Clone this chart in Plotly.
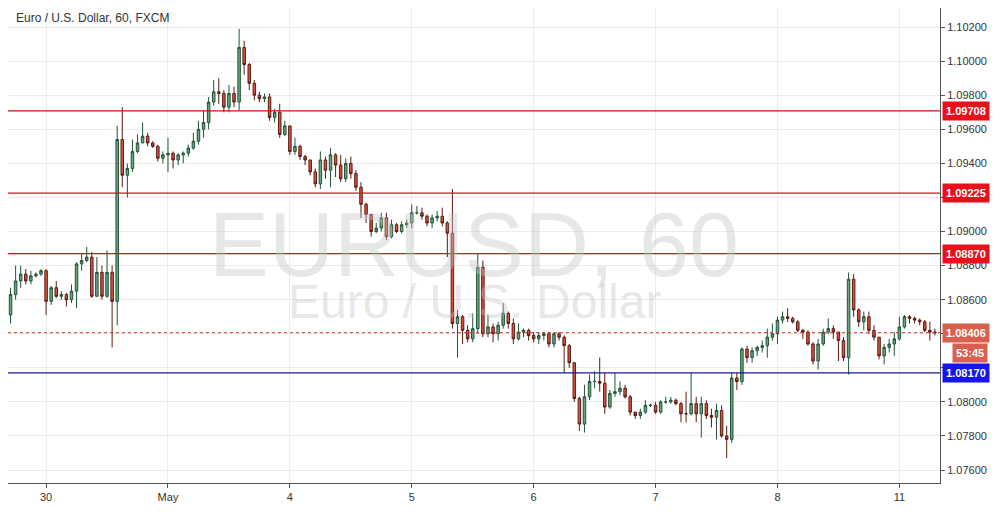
import plotly.graph_objects as go

# hourly EUR/USD candles, Apr 29 - May 11
first_open = 1.0849
closes = [
    1.0851, 1.0863, 1.0871, 1.0875, 1.0871, 1.0874, 1.0875, 1.0877, 1.0859, 1.0867,
    1.0862, 1.0863, 1.0860, 1.0865, 1.0881, 1.0883, 1.0885, 1.0862, 1.0876, 1.0862,
    1.0876, 1.0859, 1.0954, 1.0933, 1.0937, 1.0947, 1.0952, 1.0956, 1.0952, 1.0950,
    1.0943, 1.0945, 1.0946, 1.0942, 1.0945, 1.0946, 1.0949, 1.0953, 1.0960, 1.0964,
    1.0976, 1.0982, 1.0981, 1.0973, 1.0981, 1.0976, 1.1008, 1.0998, 1.0987, 1.0980,
    1.0978, 1.0979, 1.0967, 1.0970, 1.0957, 1.0962, 1.0947, 1.0950, 1.0944, 1.0942,
    1.0935, 1.0928, 1.0942, 1.0936, 1.0945, 1.0939, 1.0931, 1.0940, 1.0934, 1.0926,
    1.0916, 1.0910, 1.0900, 1.0902, 1.0908, 1.0897, 1.0904, 1.0900, 1.0904, 1.0905,
    1.0911, 1.0911, 1.0909, 1.0905, 1.0908, 1.0909, 1.0905, 1.0899, 1.0846, 1.0850,
    1.0842, 1.0837, 1.0843, 1.0879, 1.0840, 1.0844, 1.0840, 1.0845, 1.0852, 1.0846,
    1.0837, 1.0841, 1.0842, 1.0839, 1.0837, 1.0839, 1.0840, 1.0834, 1.0840, 1.0838,
    1.0833, 1.0823, 1.0802, 1.0787, 1.0803, 1.0812, 1.0812, 1.0811, 1.0797, 1.0805,
    1.0806, 1.0808, 1.0803, 1.0794, 1.0792, 1.0794, 1.0798, 1.0798, 1.0794, 1.0800,
    1.0800, 1.0801, 1.0799, 1.0793, 1.0793, 1.0799, 1.0793, 1.0799, 1.0792, 1.0791,
    1.0795, 1.0780, 1.0778, 1.0814, 1.0812, 1.0831, 1.0826, 1.0830, 1.0832, 1.0833,
    1.0838, 1.0840, 1.0848, 1.0850, 1.0849, 1.0847, 1.0842, 1.0841, 1.0834, 1.0824,
    1.0834, 1.0841, 1.0843, 1.0841, 1.0836, 1.0826, 1.0872, 1.0854, 1.0847, 1.0850,
    1.0842, 1.0838, 1.0827, 1.0832, 1.0834, 1.0837, 1.0844, 1.0850, 1.0849, 1.0848,
    1.0847, 1.0842, 1.0841, 1.08406,
]
highs = [
    1.0853, 1.0867, 1.0880, 1.0880, 1.0878, 1.0877, 1.0876, 1.0878, 1.0878, 1.0868,
    1.0871, 1.0865, 1.0864, 1.0869, 1.0882, 1.0887, 1.0891, 1.0888, 1.0885, 1.0880,
    1.0889, 1.0880, 1.0962, 1.0973, 1.0940, 1.0954, 1.0957, 1.0964, 1.0958, 1.0953,
    1.0951, 1.0947, 1.0955, 1.0947, 1.0946, 1.0947, 1.0951, 1.0958, 1.0965, 1.0971,
    1.0979, 1.0989, 1.0990, 1.0983, 1.0986, 1.0985, 1.1019, 1.1012, 1.0999, 1.0989,
    1.0982, 1.0981, 1.0981, 1.0972, 1.0975, 1.0965, 1.0962, 1.0955, 1.0951, 1.0945,
    1.0942, 1.0937, 1.0947, 1.0944, 1.0949, 1.0946, 1.0945, 1.0943, 1.0944, 1.0936,
    1.0929, 1.0917, 1.0910, 1.0905, 1.0911, 1.0911, 1.0907, 1.0905, 1.0906, 1.0907,
    1.0916, 1.0915, 1.0914, 1.0910, 1.0910, 1.0912, 1.0914, 1.0906, 1.0925, 1.0854,
    1.0851, 1.0845, 1.0852, 1.0887, 1.0883, 1.0851, 1.0846, 1.0847, 1.0858, 1.0853,
    1.0849, 1.0846, 1.0843, 1.0843, 1.0841, 1.0841, 1.0841, 1.0841, 1.0841, 1.0841,
    1.0839, 1.0834, 1.0823, 1.0803, 1.0810, 1.0816, 1.0818, 1.0826, 1.0817, 1.0807,
    1.0817, 1.0812, 1.0810, 1.0804, 1.0794, 1.0796, 1.0801, 1.0799, 1.0800, 1.0801,
    1.0803, 1.0803, 1.0802, 1.0800, 1.0806, 1.0817, 1.0803, 1.0803, 1.0801, 1.0796,
    1.0799, 1.0798, 1.0786, 1.0817, 1.0817, 1.0832, 1.0833, 1.0832, 1.0833, 1.0836,
    1.0843, 1.0846, 1.0850, 1.0853, 1.0855, 1.0850, 1.0848, 1.0843, 1.0842, 1.0835,
    1.0837, 1.0843, 1.0849, 1.0845, 1.0841, 1.0838, 1.0876, 1.0875, 1.0855, 1.0853,
    1.0853, 1.0845, 1.0838, 1.0834, 1.0837, 1.0841, 1.0850, 1.0851, 1.0851, 1.0850,
    1.0849, 1.0848, 1.0847, 1.0843,
]
lows = [
    1.0846, 1.0846, 1.0860, 1.0867, 1.0869, 1.0869, 1.0873, 1.0874, 1.0851, 1.0857,
    1.0861, 1.0860, 1.0856, 1.0858, 1.0855, 1.0877, 1.0882, 1.0861, 1.0862, 1.0860,
    1.0861, 1.0832, 1.0845, 1.0926, 1.0920, 1.0935, 1.0946, 1.0952, 1.0950, 1.0949,
    1.0941, 1.0940, 1.0935, 1.0937, 1.0939, 1.0940, 1.0944, 1.0948, 1.0951, 1.0955,
    1.0960, 1.0974, 1.0975, 1.0970, 1.0970, 1.0973, 1.0971, 1.0992, 1.0983, 1.0977,
    1.0976, 1.0976, 1.0965, 1.0964, 1.0955, 1.0956, 1.0945, 1.0945, 1.0942, 1.0939,
    1.0933, 1.0926, 1.0925, 1.0931, 1.0926, 1.0932, 1.0929, 1.0929, 1.0931, 1.0924,
    1.0908, 1.0905, 1.0897, 1.0899, 1.0900, 1.0895, 1.0896, 1.0899, 1.0899, 1.0902,
    1.0902, 1.0910, 1.0907, 1.0903, 1.0902, 1.0906, 1.0903, 1.0885, 1.0843, 1.0826,
    1.0834, 1.0835, 1.0835, 1.0840, 1.0838, 1.0838, 1.0835, 1.0836, 1.0843, 1.0843,
    1.0834, 1.0836, 1.0838, 1.0836, 1.0835, 1.0834, 1.0836, 1.0832, 1.0832, 1.0836,
    1.0817, 1.0820, 1.0800, 1.0783, 1.0782, 1.0801, 1.0808, 1.0806, 1.0793, 1.0796,
    1.0803, 1.0804, 1.0802, 1.0792, 1.0790, 1.0790, 1.0793, 1.0797, 1.0793, 1.0793,
    1.0799, 1.0799, 1.0798, 1.0788, 1.0788, 1.0792, 1.0788, 1.0779, 1.0790, 1.0785,
    1.0778, 1.0779, 1.0767, 1.0776, 1.0807, 1.0810, 1.0823, 1.0823, 1.0827, 1.0829,
    1.0826, 1.0836, 1.0834, 1.0846, 1.0847, 1.0846, 1.0841, 1.0837, 1.0833, 1.0822,
    1.0819, 1.0833, 1.0840, 1.0837, 1.0824, 1.0824, 1.0816, 1.0850, 1.0844, 1.0842,
    1.0840, 1.0836, 1.0825, 1.0822, 1.0829, 1.0827, 1.0836, 1.0843, 1.0846, 1.0846,
    1.0845, 1.0841, 1.0836, 1.0839,
]
opens = [first_open] + closes[:-1]
idx = list(range(len(closes)))

day_pos = [8, 32, 56, 80, 104, 128, 152, 176]
day_labels = ["30", "May", "4", "5", "6", "7", "8", "11"]
price_ticks = [1.076, 1.078, 1.080, 1.082, 1.084, 1.086, 1.088, 1.090, 1.092,
               1.094, 1.096, 1.098, 1.100, 1.102]

resistance = [1.09708, 1.09225, 1.08870]
support = 1.08170
last_price = 1.08406

fig = go.Figure(go.Candlestick(
    x=idx, open=opens, high=highs, low=lows, close=closes,
    increasing=dict(fillcolor="#6ba583", line=dict(color="#225437", width=1)),
    decreasing=dict(fillcolor="#d75442", line=dict(color="#5b1a13", width=1)),
    whiskerwidth=0, showlegend=False, hoverinfo="skip",
))

for lvl in resistance:
    fig.add_hline(y=lvl, line=dict(color="#d0111b", width=1.3), layer="above")
    fig.add_annotation(x=1, xref="paper", y=lvl, yref="y", xanchor="left", xshift=2,
                       text=f"<b>{lvl:.5f}</b>", showarrow=False, bgcolor="#e8111b",
                       font=dict(color="white", size=11, family="Arial"), borderpad=3)
fig.add_hline(y=support, line=dict(color="#1a1a8c", width=1.3), layer="above")
fig.add_annotation(x=1, xref="paper", y=support, yref="y", xanchor="left", xshift=2,
                   text=f"<b>{support:.5f}</b>", showarrow=False, bgcolor="#1515f0",
                   font=dict(color="white", size=11, family="Arial"), borderpad=3)
fig.add_hline(y=last_price, line=dict(color="#c0392b", width=1, dash="dot"))
fig.add_annotation(x=1, xref="paper", y=last_price, yref="y", xanchor="left", xshift=2,
                   text=f"<b>{last_price:.5f}</b>", showarrow=False, bgcolor="#d9604f",
                   font=dict(color="white", size=11, family="Arial"), borderpad=3)
fig.add_annotation(x=1, xref="paper", y=last_price, yref="y", xanchor="left", xshift=12,
                   yshift=-20, text="<b>53:45</b>", showarrow=False, bgcolor="#d9604f",
                   font=dict(color="white", size=11, family="Arial"), borderpad=3)

# watermark
fig.add_annotation(x=0.5, xref="paper", y=1.0892, yref="y", text="EURUSD, 60",
                   showarrow=False, font=dict(size=90, color="rgba(195,195,195,0.4)",
                                              family="Arial"))
fig.add_annotation(x=0.5, xref="paper", y=1.0859, yref="y", text="Euro / U.S. Dollar",
                   showarrow=False, font=dict(size=48, color="rgba(195,195,195,0.4)",
                                              family="Arial"))
fig.add_annotation(x=0.006, xref="paper", y=0.998, yref="paper", xanchor="left",
                   yanchor="top", text="Euro / U.S. Dollar, 60, FXCM", showarrow=False,
                   font=dict(size=12, color="#333", family="Arial"))

fig.update_layout(
    width=996, height=507, margin=dict(l=0, r=64, t=0, b=32),
    paper_bgcolor="white", plot_bgcolor="white",
    xaxis=dict(range=[0.5, 184], tickvals=day_pos, ticktext=day_labels,
               rangeslider=dict(visible=False), showgrid=True, gridcolor="#ececec",
               showline=True, linecolor="#555", mirror=True, ticks="outside",
               ticklen=4, tickcolor="#555", tickfont=dict(size=11, color="#333",
                                                           family="Arial")),
    yaxis=dict(side="right", range=[1.07524, 1.10312], tickvals=price_ticks,
               tickformat=".5f", showgrid=True, gridcolor="#ececec", showline=True,
               linecolor="#555", mirror=True, ticks="outside", ticklen=4,
               tickcolor="#555", tickfont=dict(size=11, color="#333", family="Arial")),
)

fig.write_html("out.html")
